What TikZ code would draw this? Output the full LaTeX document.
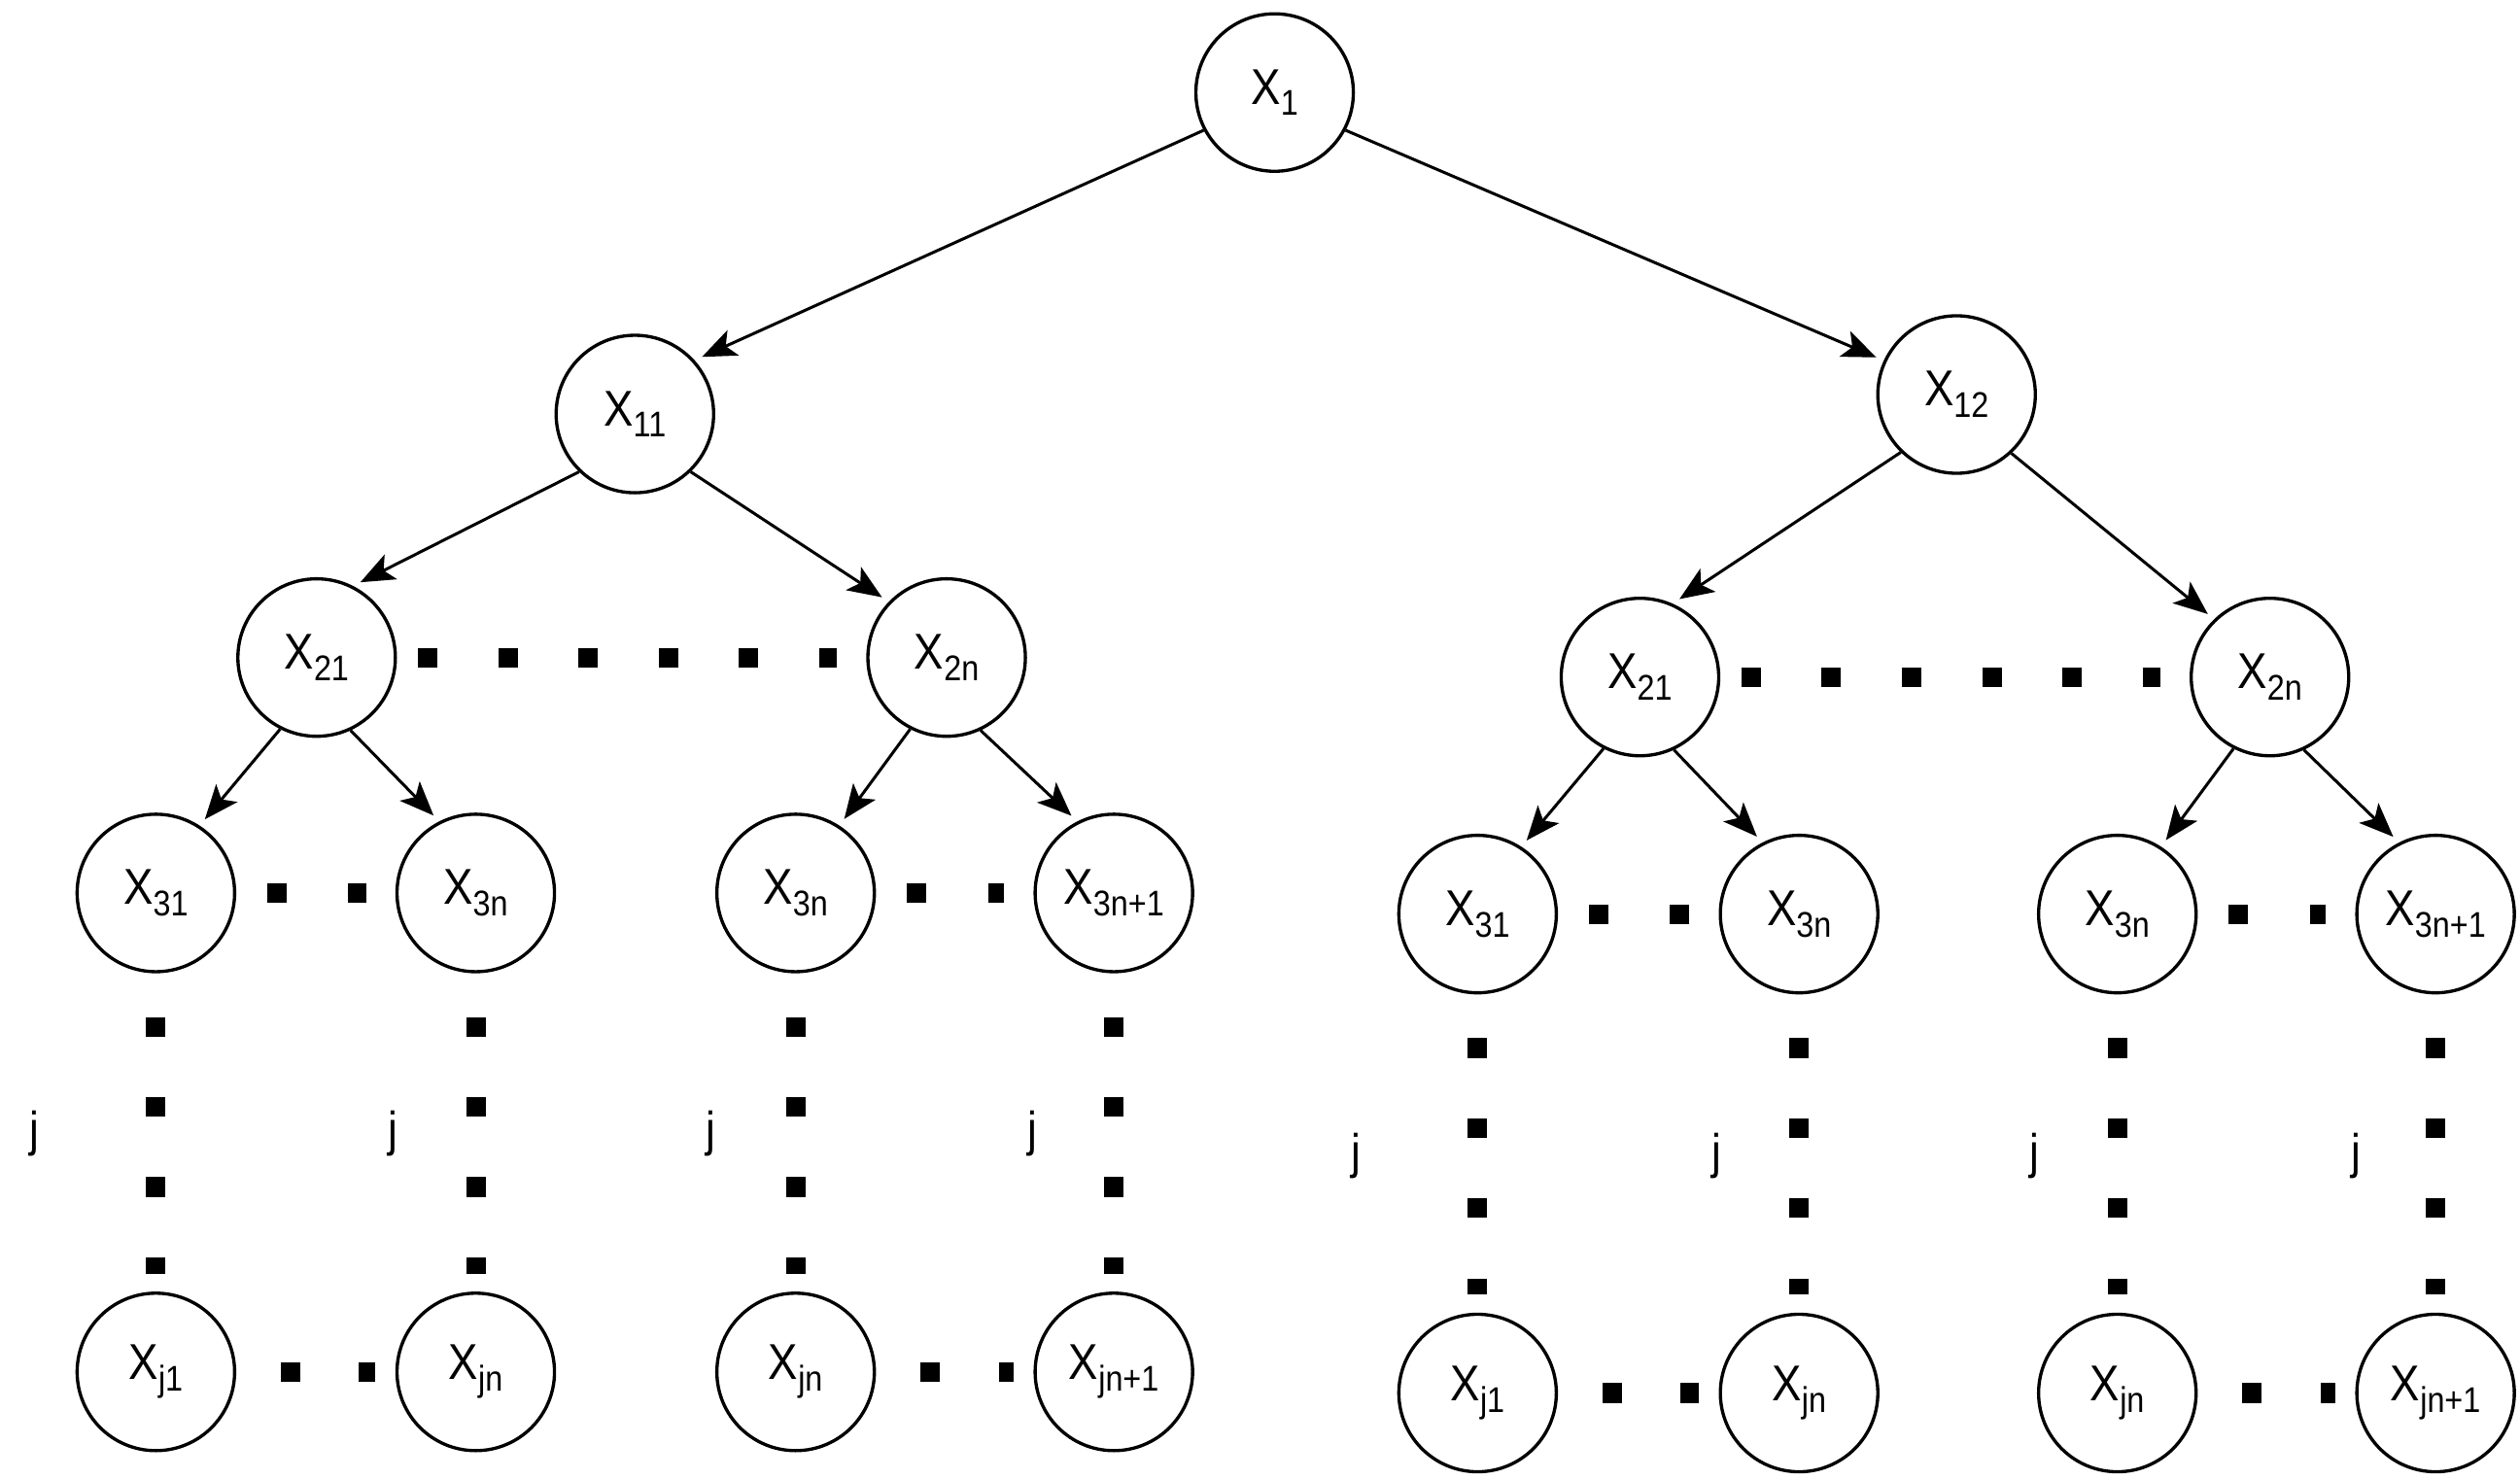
\documentclass[tikz,border=0pt]{standalone}
\usepackage{fontspec}
\setmainfont{Liberation Sans}[FakeStretch=0.88]
\usetikzlibrary{arrows.meta}
\newcommand\subf{\fontsize{22}{22}\selectfont}
\newcommand\xs[1]{X\raisebox{-7pt}{\subf #1}}
\tikzset{
  nd/.style={circle, draw, line width=2pt, minimum size=97pt, inner sep=0pt,
    font=\fontsize{31}{31}\selectfont},
  arr/.style={line width=1.8pt, -{Stealth[length=21pt,width=17pt,inset=5pt]}, shorten >=5pt},
  hdots6/.style={line width=12pt, dash pattern=on 12pt off 37.4pt, shorten <=13pt, shorten >=18pt},
  hdots2/.style={line width=12pt, dash pattern=on 12pt off 38pt, shorten <=19pt, shorten >=18pt},
  hdotsb/.style={line width=12pt, dash pattern=on 12pt off 36pt, shorten <=27.5pt, shorten >=12.5pt},
  vdots/.style={line width=12pt, dash pattern=on 12pt off 37.3pt, shorten <=27pt, shorten >=11pt},
  jl/.style={font=\fontsize{30}{30}\selectfont, inner sep=0pt}
}
\begin{document}
\begin{tikzpicture}[x=1pt,y=-1pt]
\useasboundingbox (0,0) rectangle (1552,910.4);
% root
\node[nd] (X1) at (785,57) {\xs{1}};
\node[nd] (X11) at (391,255) {\xs{11}};
\node[nd] (X12) at (1205,243) {\xs{12}};
% left subtree
\node[nd] (L21) at (195,405) {\xs{21}};
\node[nd] (L2n) at (583,405) {\xs{2n}};
\node[nd] (L31) at (96,550) {\xs{31}};
\node[nd] (L3n) at (293,550) {\xs{3n}};
\node[nd] (L3nb) at (490,550) {\xs{3n}};
\node[nd] (L3n1) at (686,550) {\xs{3n+1}};
\node[nd] (Lj1) at (96,845) {\xs{j1}};
\node[nd] (Ljn) at (293,845) {\xs{jn}};
\node[nd] (Ljnb) at (490,845) {\xs{jn}};
\node[nd] (Ljn1) at (686,845) {\xs{jn+1}};
% right subtree
\node[nd] (R21) at (1010,417) {\xs{21}};
\node[nd] (R2n) at (1398,417) {\xs{2n}};
\node[nd] (R31) at (910,563) {\xs{31}};
\node[nd] (R3n) at (1108,563) {\xs{3n}};
\node[nd] (R3nb) at (1304,563) {\xs{3n}};
\node[nd] (R3n1) at (1500,563) {\xs{3n+1}};
\node[nd] (Rj1) at (910,858) {\xs{j1}};
\node[nd] (Rjn) at (1108,858) {\xs{jn}};
\node[nd] (Rjnb) at (1304,858) {\xs{jn}};
\node[nd] (Rjn1) at (1500,858) {\xs{jn+1}};
% j labels
\node[jl] (jL1) at (21,698) {j};
\node[jl] (jL2) at (242,698) {j};
\node[jl] (jL3) at (438,698) {j};
\node[jl] (jL4) at (636,698) {j};
\node[jl] (jR1) at (835,712) {j};
\node[jl] (jR2) at (1057,712) {j};
\node[jl] (jR3) at (1253,712) {j};
\node[jl] (jR4) at (1451,712) {j};
% arrows
\draw[arr] (X1.208) -- (X11.42);
\draw[arr] (X1.-28) -- (X12.155);
\draw[arr] (X11.226) -- (L21.63);
\draw[arr] (X11.-46) -- (L2n.136);
\draw[arr] (X12.226) -- (R21.66);
\draw[arr] (X12.-47) -- (R2n.134);
\foreach \p/\a/\b in {L21/L31/L3n, L2n/L3nb/L3n1, R21/R31/R3n, R2n/R3nb/R3n1}{
  \draw[arr] (\p.243) -- (\a.57);
  \draw[arr] (\p.-65) -- (\b.117);
}
% dotted connectors
\draw[hdots6] (L21.east) -- (L2n.west);
\draw[hdots6] (R21.east) -- (R2n.west);
\foreach \a/\b in {L31/L3n, L3nb/L3n1, R31/R3n, R3nb/R3n1}{
  \draw[hdots2] (\a.east) -- (\b.west);
}
\foreach \a/\b in {Lj1/Ljn, Ljnb/Ljn1, Rj1/Rjn, Rjnb/Rjn1}{
  \draw[hdotsb] (\a.east) -- (\b.west);
}
\foreach \a/\b in {L31/Lj1, L3n/Ljn, L3nb/Ljnb, L3n1/Ljn1, R31/Rj1, R3n/Rjn, R3nb/Rjnb, R3n1/Rjn1}{
  \draw[vdots] (\a.south) -- (\b.north);
}
\end{tikzpicture}
\end{document}
